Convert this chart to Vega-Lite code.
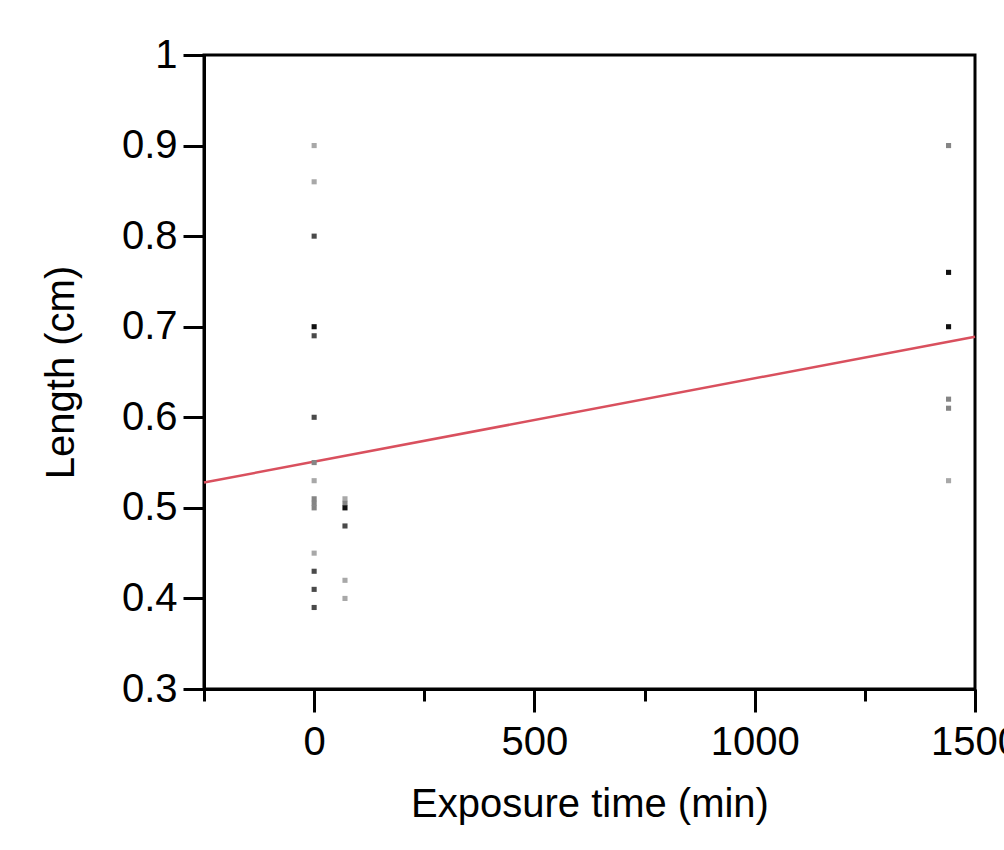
{
  "$schema": "https://vega.github.io/schema/vega-lite/v6.json",
  "width": 771,
  "height": 634,
  "autosize": {"type": "none"},
  "padding": {"left": 204, "top": 55, "right": 29, "bottom": 161},
  "background": "white",
  "config": {
    "view": {"stroke": "black", "strokeWidth": 3},
    "font": "Liberation Sans, Arial, sans-serif",
    "axis": {
      "domainColor": "black",
      "domainWidth": 3,
      "tickColor": "black",
      "tickWidth": 3,
      "grid": false,
      "labelColor": "black",
      "labelFont": "Liberation Sans, Arial, sans-serif",
      "labelFontSize": 40,
      "titleFont": "Liberation Sans, Arial, sans-serif",
      "titleFontSize": 40,
      "titleFontWeight": "normal",
      "titleColor": "black"
    }
  },
  "datasets": {
    "obs": [
      {"time": 0, "length": 0.90, "n": 1},
      {"time": 0, "length": 0.86, "n": 1},
      {"time": 0, "length": 0.80, "n": 3},
      {"time": 0, "length": 0.70, "n": 4},
      {"time": 0, "length": 0.69, "n": 3},
      {"time": 0, "length": 0.60, "n": 3},
      {"time": 0, "length": 0.55, "n": 2},
      {"time": 0, "length": 0.53, "n": 1},
      {"time": 0, "length": 0.51, "n": 2},
      {"time": 0, "length": 0.505, "n": 2},
      {"time": 0, "length": 0.50, "n": 2},
      {"time": 0, "length": 0.45, "n": 1},
      {"time": 0, "length": 0.43, "n": 3},
      {"time": 0, "length": 0.41, "n": 3},
      {"time": 0, "length": 0.39, "n": 3},
      {"time": 70, "length": 0.51, "n": 1},
      {"time": 70, "length": 0.505, "n": 2},
      {"time": 70, "length": 0.50, "n": 4},
      {"time": 70, "length": 0.48, "n": 3},
      {"time": 70, "length": 0.42, "n": 1},
      {"time": 70, "length": 0.40, "n": 1},
      {"time": 1440, "length": 0.90, "n": 2},
      {"time": 1440, "length": 0.76, "n": 4},
      {"time": 1440, "length": 0.70, "n": 4},
      {"time": 1440, "length": 0.62, "n": 2},
      {"time": 1440, "length": 0.61, "n": 2},
      {"time": 1440, "length": 0.53, "n": 1}
    ],
    "fit": [
      {"time": -250, "length": 0.528},
      {"time": 1500, "length": 0.689}
    ]
  },
  "layer": [
    {
      "data": {"name": "fit"},
      "mark": {"type": "line", "color": "#d9505e", "strokeWidth": 2.5},
      "encoding": {
        "x": {"field": "time", "type": "quantitative"},
        "y": {"field": "length", "type": "quantitative"}
      }
    },
    {
      "data": {"name": "obs"},
      "mark": {"type": "point", "shape": "square", "filled": true, "size": 26, "opacity": 1},
      "encoding": {
        "x": {
          "field": "time",
          "type": "quantitative",
          "scale": {"domain": [-250, 1500], "nice": false, "zero": false},
          "axis": {
            "title": "Exposure time (min)",
            "values": [-250, 0, 250, 500, 750, 1000, 1250, 1500],
            "format": "d",
            "labelExpr": "datum.value % 500 === 0 ? datum.label : ''",
            "tickSize": {"condition": {"test": "datum.value % 500 === 0", "value": 23}, "value": 12},
            "labelPadding": 10,
            "titlePadding": 22,
            "labelFlush": false,
            "labelOverlap": false
          }
        },
        "y": {
          "field": "length",
          "type": "quantitative",
          "scale": {"domain": [0.3, 1], "nice": false, "zero": false},
          "axis": {
            "title": "Length (cm)",
            "values": [0.3, 0.4, 0.5, 0.6, 0.7, 0.8, 0.9, 1],
            "format": "~g",
            "tickSize": 21,
            "labelPadding": 6,
            "titlePadding": 40,
            "labelFlush": false,
            "labelOverlap": false
          }
        },
        "color": {
          "field": "n",
          "type": "ordinal",
          "scale": {"domain": [1, 2, 3, 4], "range": ["#a8a8a8", "#858585", "#4a4a4a", "#111111"]},
          "legend": null
        }
      }
    }
  ]
}
